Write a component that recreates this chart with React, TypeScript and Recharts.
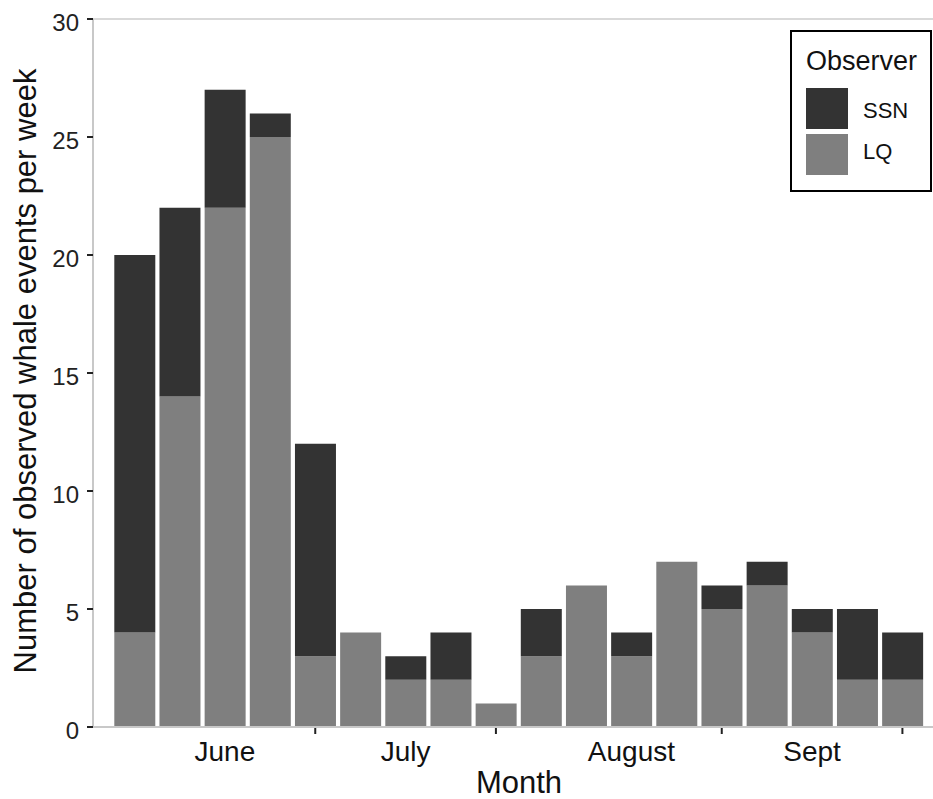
import React from 'react'
import { BarChart, Bar, XAxis, YAxis, Legend, ReferenceLine, Label } from 'recharts'

// weekly counts, June - Sept
const weeks = [1, 2, 3, 4, 5, 6, 7, 8, 9, 10, 11, 12, 13, 14, 15, 16, 17, 18]
const lqCounts = [4, 14, 22, 25, 3, 4, 2, 2, 1, 3, 6, 3, 7, 5, 6, 4, 2, 2]
const ssnCounts = [16, 8, 5, 1, 9, 0, 1, 2, 0, 2, 0, 1, 0, 1, 1, 1, 3, 2]
const monthLabels = ['', '', 'June', '', '', '', 'July', '', '', '', '', 'August', '', '', '', 'Sept', '', '']
const monthBreaks = [5, 9, 14, 18]
const yTicks = [0, 5, 10, 15, 20, 25, 30]

const SSN_COLOR = '#333333'
const LQ_COLOR = '#7f7f7f'
const FONT = '"Liberation Sans", Arial, Helvetica, sans-serif'

const chartData = weeks.map((week, i) => ({
  week,
  month: monthLabels[i],
  LQ: lqCounts[i],
  SSN: ssnCounts[i],
}))

const MonthTick = (props: any) => {
  const { x, y, payload } = props
  const label = monthLabels[payload.index]
  const isBreak = monthBreaks.includes(payload.value)
  return (
    <g>
      {isBreak && <line x1={x} x2={x} y1={y + 1} y2={y + 7} stroke="#222" strokeWidth={2} />}
      {label && (
        <text x={x} y={y + 33.7} textAnchor="middle" fontSize={28} fill="#111" fontFamily={FONT}>
          {label}
        </text>
      )}
    </g>
  )
}

const CountTick = (props: any) => {
  const { x, y, payload } = props
  return (
    <text x={x} y={y + 11.8} textAnchor="end" fontSize={24} fill="#222" fontFamily={FONT}>
      {payload.value}
    </text>
  )
}

const renderYTitle = (props: any) => {
  const { viewBox } = props
  const cx = viewBox.x + 36
  const cy = viewBox.y + viewBox.height / 2 - 2
  return (
    <text
      x={cx}
      y={cy}
      transform={`rotate(-90, ${cx}, ${cy})`}
      textAnchor="middle"
      fontSize={31}
      fill="#111"
      fontFamily={FONT}
    >
      Number of observed whale events per week
    </text>
  )
}

const renderXTitle = (props: any) => {
  const { viewBox } = props
  return (
    <text x={viewBox.x + 426} y={viewBox.y + 65.5} textAnchor="middle" fontSize={31} fill="#111" fontFamily={FONT}>
      Month
    </text>
  )
}

const legendItems = [
  { name: 'SSN', color: SSN_COLOR },
  { name: 'LQ', color: LQ_COLOR },
]

const renderLegend = () => (
  <svg width={142} height={162} style={{ display: 'block' }}>
    <rect x={1} y={1} width={140} height={160} fill="#fff" stroke="#000" strokeWidth={2} />
    <text x={16} y={40} fontSize={27} fill="#111" fontFamily={FONT}>
      Observer
    </text>
    {legendItems.map((item, i) => (
      <g key={item.name}>
        <rect x={16} y={58 + i * 46} width={42} height={41} fill={item.color} />
        <text x={73} y={88 + i * 41} fontSize={22} fill="#111" fontFamily={FONT}>
          {item.name}
        </text>
      </g>
    ))}
  </svg>
)

export default function App() {
  return (
    <div style={{ width: 933, height: 799, fontFamily: FONT }}>
      <style>{'body{margin:0;overflow:hidden}'}</style>
      <BarChart
        width={933}
        height={799}
        data={chartData}
        margin={{ top: 19, right: 0, bottom: 0, left: 0 }}
        barCategoryGap={2.3}
      >
        <XAxis
          dataKey="week"
          height={72}
          interval={0}
          padding={{ left: 19, right: 8 }}
          axisLine={{ stroke: '#c8c8c8', strokeWidth: 2 }}
          tickLine={false}
          tickSize={0}
          tickMargin={0}
          tick={<MonthTick />}
        >
          <Label content={renderXTitle} />
        </XAxis>
        <YAxis
          width={93}
          domain={[0, 30]}
          ticks={yTicks}
          interval={0}
          axisLine={{ stroke: '#c8c8c8', strokeWidth: 2 }}
          tickLine={{ stroke: '#222', strokeWidth: 2 }}
          tickSize={6}
          tickMargin={8}
          tick={<CountTick />}
        >
          <Label content={renderYTitle} />
        </YAxis>
        <ReferenceLine y={30} stroke="#d9d9d9" strokeWidth={2} />
        <Legend
          layout="vertical"
          align="center"
          verticalAlign="middle"
          wrapperStyle={{ left: 790, top: 30, width: 142, height: 162 }}
          content={renderLegend}
        />
        <Bar dataKey="LQ" stackId="obs" fill={LQ_COLOR} isAnimationActive={false} />
        <Bar dataKey="SSN" stackId="obs" fill={SSN_COLOR} isAnimationActive={false} />
      </BarChart>
    </div>
  )
}
